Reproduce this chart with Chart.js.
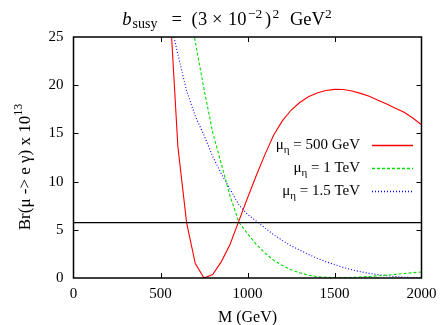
<!DOCTYPE html>
<html>
<head>
<meta charset="utf-8">
<script src="https://cdn.jsdelivr.net/npm/chart.js@4.4.1/dist/chart.umd.min.js"></script>
<style>
  html, body { margin: 0; padding: 0; background: #fff; }
  #wrap { width: 440px; height: 325px; }
</style>
</head>
<body>
<div id="wrap"><canvas id="chart"></canvas></div>
<script>
// M in GeV, Br x 10^13
const masses = [550, 600, 650, 700, 750, 800, 850, 900, 950, 1000,
  1050, 1100, 1150, 1200, 1250, 1300, 1350, 1400, 1450, 1500,
  1550, 1600, 1650, 1700, 1750, 1800, 1850, 1900, 1950, 2000];
const br500 = [29.3, 13.6, 5.74, 1.5, 0.0, 0.35, 1.7, 3.5, 5.9, 8.3,
  10.6, 12.8, 14.8, 16.3, 17.4, 18.2, 18.8, 19.2, 19.45, 19.57,
  19.55, 19.4, 19.15, 18.85, 18.45, 18.05, 17.6, 17.2, 16.6, 15.9];
const br1000 = [null, null, 29.5, 24.5, 19.6, 15.1, 11.8, 8.5, 5.8, 4.6,
  3.5, 2.6, 1.85, 1.3, 0.85, 0.55, 0.3, 0.15, 0.07, 0.04,
  0.04, 0.06, 0.1, 0.16, 0.23, 0.3, 0.38, 0.46, 0.55, 0.62];
const br1500 = [27.1, 23.2, 19.4, 16.8, 14.8, 12.6, 10.8, 9.2, 7.6, 6.6,
  5.9, 5.2, 4.5, 3.9, 3.35, 2.9, 2.45, 2.05, 1.7, 1.4,
  1.1, 0.85, 0.65, 0.48, 0.35, 0.24, 0.15, 0.08, 0.04, 0.03];
const limitValue = 5.74;
const xTicks = [0, 500, 1000, 1500, 2000];
const yTicks = [0, 5, 10, 15, 20, 25];
const muLabels = ['500 GeV', '1 TeV', '1.5 TeV'];

const SERIF = "'Liberation Serif', 'Times New Roman', serif";
const colors = ['#ff0000', '#00dd00', '#0000ff'];
const dashes = [[], [3, 2], [1, 2]];

const toPoints = vals => masses.map((m, i) => ({ x: m, y: vals[i] }));

// pieces of text with sub/superscripts
function setFont(ctx, p) {
  ctx.font = (p.italic ? 'italic ' : '') + p.size + 'px ' + SERIF;
}
function richWidth(ctx, parts) {
  let w = 0;
  parts.forEach(p => { setFont(ctx, p); w += ctx.measureText(p.t).width; });
  return w;
}
function drawRich(ctx, parts, x, y) {
  parts.forEach(p => {
    setFont(ctx, p);
    ctx.fillText(p.t, p.x !== undefined ? p.x : x, y + (p.dy || 0));
    x += ctx.measureText(p.t).width;
  });
}

const decorations = {
  id: 'decorations',
  afterDatasetsDraw(chart) {
    const { ctx, chartArea: a, scales: { x, y } } = chart;
    ctx.save();
    ctx.strokeStyle = '#000';
    ctx.fillStyle = '#000';
    ctx.setLineDash([]);

    // inward ticks on all four sides
    ctx.lineWidth = 1;
    ctx.beginPath();
    xTicks.slice(1, -1).forEach(v => {
      const px = Math.round(x.getPixelForValue(v)) + 0.5;
      ctx.moveTo(px, a.bottom); ctx.lineTo(px, a.bottom - 5);
      ctx.moveTo(px, a.top); ctx.lineTo(px, a.top + 5);
    });
    yTicks.slice(1, -1).forEach(v => {
      const py = Math.round(y.getPixelForValue(v)) + 0.5;
      ctx.moveTo(a.left, py); ctx.lineTo(a.left + 5, py);
      ctx.moveTo(a.right, py); ctx.lineTo(a.right - 5, py);
    });
    ctx.stroke();

    ctx.lineWidth = 1.5;
    ctx.strokeRect(a.left, a.top, a.width, a.height);

    // legend: text right aligned, sample line on the right
    const rows = [145, 168, 191];
    ctx.textBaseline = 'alphabetic';
    ctx.textAlign = 'left';
    muLabels.forEach((lab, i) => {
      const parts = [
        { t: 'μ', size: 15 },
        { t: 'η', size: 11, dy: 4 },
        { t: ' = ' + lab, size: 15 }
      ];
      const w = richWidth(ctx, parts);
      drawRich(ctx, parts, 360 - w, rows[i] + 4);
      ctx.save();
      ctx.beginPath();
      ctx.strokeStyle = colors[i];
      ctx.lineWidth = 1.3;
      ctx.setLineDash(dashes[i]);
      ctx.moveTo(372, rows[i] + 0.5);
      ctx.lineTo(413, rows[i] + 0.5);
      ctx.stroke();
      ctx.restore();
    });

    // main title, laid out piece by piece like the TeX original
    const T = 18.5, S = 13.5;
    const title = [
      { t: 'b', x: 122.3, size: T, italic: true },
      { t: 'susy', x: 132.5, size: 14, dy: 2.5 },
      { t: '=', x: 171.5, size: T },
      { t: '(', x: 191.5, size: T },
      { t: '3', x: 198, size: T },
      { t: '×', x: 212, size: T },
      { t: '10', x: 228, size: T },
      { t: '−2', x: 248, size: S, dy: -7.5 },
      { t: ')', x: 265, size: T },
      { t: '2', x: 272.5, size: S, dy: -7.5 },
      { t: 'GeV', x: 290, size: T },
      { t: '2', x: 325, size: S, dy: -7.5 }
    ];
    drawRich(ctx, title, 0, 25);

    // y axis title, rotated
    const ytitle = [
      { t: 'Br(μ -> e γ) x 10', size: 17 },
      { t: '13', size: 12, dy: -8 }
    ];
    const yw = richWidth(ctx, ytitle);
    ctx.translate(30, 167);
    ctx.rotate(-Math.PI / 2);
    drawRich(ctx, ytitle, -yw / 2, 0);
    ctx.restore();
  }
};

new Chart(document.getElementById('chart'), {
  type: 'line',
  data: {
    datasets: [
      { label: 'limit', data: [{ x: 0, y: limitValue }, { x: 2000, y: limitValue }],
        borderColor: '#000', borderWidth: 1.3 },
      { label: muLabels[0], data: toPoints(br500), borderColor: colors[0], borderWidth: 1.1, borderDash: dashes[0] },
      { label: muLabels[1], data: toPoints(br1000), borderColor: colors[1], borderWidth: 1.1, borderDash: dashes[1] },
      { label: muLabels[2], data: toPoints(br1500), borderColor: colors[2], borderWidth: 1.1, borderDash: dashes[2] }
    ].map(d => Object.assign(d, { pointRadius: 0, tension: 0, fill: false, clip: 0 }))
  },
  options: {
    responsive: true,
    maintainAspectRatio: false,
    animation: false,
    layout: { padding: { top: 37, right: 18.5, left: 0, bottom: 0 } },
    plugins: { legend: { display: false }, tooltip: { enabled: false }, title: { display: false } },
    scales: {
      x: {
        type: 'linear', min: 0, max: 2000,
        afterBuildTicks: s => { s.ticks = xTicks.map(v => ({ value: v })); },
        afterFit: s => { s.height = 47; s.paddingLeft = 0; s.paddingRight = 0; },
        grid: { display: false, drawTicks: false },
        border: { display: false },
        ticks: { color: '#000', padding: 7, maxRotation: 0, callback: v => String(v),
          font: { family: SERIF, size: 15 } },
        title: { display: true, text: 'M (GeV)', color: '#000', padding: { top: 0, bottom: -2.5 },
          font: { family: SERIF, size: 16 } }
      },
      y: {
        min: 0, max: 25,
        afterBuildTicks: s => { s.ticks = yTicks.map(v => ({ value: v })); },
        afterFit: s => { s.width = 73.5; s.paddingTop = 0; s.paddingBottom = 0; },
        grid: { display: false, drawTicks: false },
        border: { display: false },
        ticks: { color: '#000', padding: 10, callback: v => String(v),
          font: { family: SERIF, size: 15 } }
      }
    }
  },
  plugins: [decorations]
});
</script>
</body>
</html>
